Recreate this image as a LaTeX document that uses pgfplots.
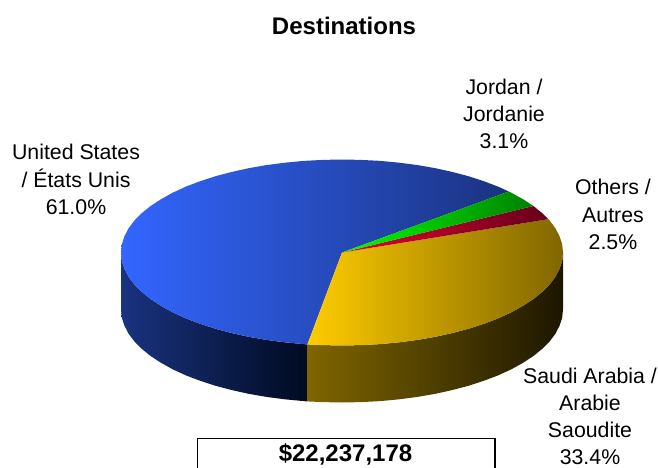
\documentclass[border=0pt]{standalone}
\usepackage{fontspec}
\setmainfont{Liberation Sans}
\usepackage{pgfplots}
\pgfplotsset{compat=1.18}
\definecolor{bluetop}{HTML}{3366FF}
\definecolor{bluemid}{HTML}{2A52CC}
\definecolor{blueend}{HTML}{1A3380}
\definecolor{bluewall}{HTML}{1A3380}
\definecolor{bluewallmid}{HTML}{14285F}
\definecolor{bluewallend}{HTML}{000A20}
\definecolor{yellowtop}{HTML}{FFCC00}
\definecolor{yellowmid}{HTML}{CCA300}
\definecolor{yellowend}{HTML}{806600}
\definecolor{yellowwall}{HTML}{806600}
\definecolor{yellowwallmid}{HTML}{584600}
\definecolor{yellowwallend}{HTML}{1C1600}
\definecolor{greentop}{HTML}{00FF00}
\definecolor{greenend}{HTML}{008000}
\definecolor{redtop}{HTML}{E60033}
\definecolor{redend}{HTML}{66001A}
\begin{document}
\begin{tikzpicture}
\useasboundingbox (0,0) rectangle (658pt,468pt);
\begin{axis}[
  at={(0,0)}, anchor=south west,
  scale only axis,
  width=658pt, height=468pt,
  xmin=0, xmax=658,
  ymin=-0.5, ymax=467.5,
  y dir=reverse,
  hide axis,
  clip=true,
]
% side walls
\addplot[draw=none, mark=none, left color=bluewall, middle color=bluewallmid, right color=bluewallend] coordinates {
  (121,252)(121.8,260.1)(124.4,268.1)(128.5,276.1)(134.3,283.8)(141.7,291.3)(150.6,298.5)(161,305.3)
  (172.7,311.8)(185.7,317.8)(199.9,323.2)(215.2,328.2)(231.5,332.5)(248.6,336.3)(266.4,339.4)(284.8,341.8)
  (303.6,343.6)(307.4,343.9)
  (307.4,400.9)(303.6,400.6)(284.8,398.8)(266.4,396.4)(248.6,393.3)(231.5,389.5)(215.2,385.2)(199.9,380.2)
  (185.7,374.8)(172.7,368.8)(161,362.3)(150.6,355.5)(141.7,348.3)(134.3,340.8)(128.5,333.1)(124.4,325.1)
  (121.8,317.1)(121,309)
} -- cycle;
\addplot[draw=none, mark=none, left color=yellowwall, middle color=yellowwallmid, right color=yellowwallend] coordinates {
  (307.4,343.9)(322.7,344.6)(342,345)(361.3,344.6)(380.4,343.6)(399.2,341.8)(417.6,339.4)(435.4,336.3)
  (452.5,332.5)(468.8,328.2)(484.1,323.2)(498.3,317.8)(511.3,311.8)(523,305.3)(533.4,298.5)(542.3,291.3)
  (549.7,283.8)(555.5,276.1)(559.6,268.1)(562.2,260.1)(563,252)
  (563,309)(562.2,317.1)(559.6,325.1)(555.5,333.1)(549.7,340.8)(542.3,348.3)(533.4,355.5)(523,362.3)
  (511.3,368.8)(498.3,374.8)(484.1,380.2)(468.8,385.2)(452.5,389.5)(435.4,393.3)(417.6,396.4)(399.2,398.8)
  (380.4,400.6)(361.3,401.6)(342,402)(322.7,401.6)(307.4,400.9)
} -- cycle;
% top slices
\addplot[draw=none, mark=none, left color=bluetop, middle color=bluemid, right color=blueend] coordinates {
  (342,252)(508.8,191)(498.3,186.2)(484.1,180.8)(468.8,175.8)(452.5,171.5)(435.4,167.7)(417.6,164.6)
  (399.2,162.2)(380.4,160.4)(361.3,159.4)(342,159)(322.7,159.4)(303.6,160.4)(284.8,162.2)(266.4,164.6)
  (248.6,167.7)(231.5,171.5)(215.2,175.8)(199.9,180.8)(185.7,186.2)(172.7,192.2)(161,198.7)(150.6,205.5)
  (141.7,212.7)(134.3,220.2)(128.5,227.9)(124.4,235.9)(121.8,243.9)(121,252)(121.8,260.1)(124.4,268.1)
  (128.5,276.1)(134.3,283.8)(141.7,291.3)(150.6,298.5)(161,305.3)(172.7,311.8)(185.7,317.8)(199.9,323.2)
  (215.2,328.2)(231.5,332.5)(248.6,336.3)(266.4,339.4)(284.8,341.8)(303.6,343.6)(307.4,343.9)
} -- cycle;
\addplot[draw=none, mark=none, left color=yellowtop, middle color=yellowmid, right color=yellowend] coordinates {
  (342,252)(307.4,343.9)(322.7,344.6)(342,345)(361.3,344.6)(380.4,343.6)(399.2,341.8)(417.6,339.4)
  (435.4,336.3)(452.5,332.5)(468.8,328.2)(484.1,323.2)(498.3,317.8)(511.3,311.8)(523,305.3)(533.4,298.5)
  (542.3,291.3)(549.7,283.8)(555.5,276.1)(559.6,268.1)(562.2,260.1)(563,252)(562.2,243.9)(559.6,235.9)
  (555.5,227.9)(549.7,220.2)(548.3,218.7)
} -- cycle;
\addplot[draw=none, mark=none, left color=redtop, right color=redend] coordinates {
  (342,252)(548.3,218.7)(542.3,212.7)(533.4,205.5)
} -- cycle;
\addplot[draw=none, mark=none, left color=greentop, right color=greenend] coordinates {
  (342,252)(533.4,205.5)(523,198.7)(511.3,192.2)(508.8,191)
} -- cycle;
% total box, cut by the lower edge
\addplot[black, line width=1.5pt, mark=none] coordinates {(197.5,470)(197.5,438)(495,438)(495,470)};
% text
\node[font=\fontsize{24}{28}\selectfont\bfseries] at (axis cs:344,25) {Destinations};
\node[font=\fontsize{24}{28}\selectfont\bfseries] at (axis cs:345.5,454) {\$22,237,178};
\node[align=center, font=\fontsize{21.3}{27.2}\selectfont] at (axis cs:76,179) {United States\\/ États Unis\\61.0\%};
\node[align=center, font=\fontsize{21.3}{27}\selectfont] at (axis cs:504,113) {Jordan /\\Jordanie\\3.1\%};
\node[align=center, font=\fontsize{21.3}{27.2}\selectfont] at (axis cs:613,214) {Others /\\Autres\\2.5\%};
\node[align=center, font=\fontsize{21.3}{27.2}\selectfont] at (axis cs:590,416) {Saudi Arabia /\\Arabie\\Saoudite\\33.4\%};
\end{axis}
\end{tikzpicture}
\end{document}
